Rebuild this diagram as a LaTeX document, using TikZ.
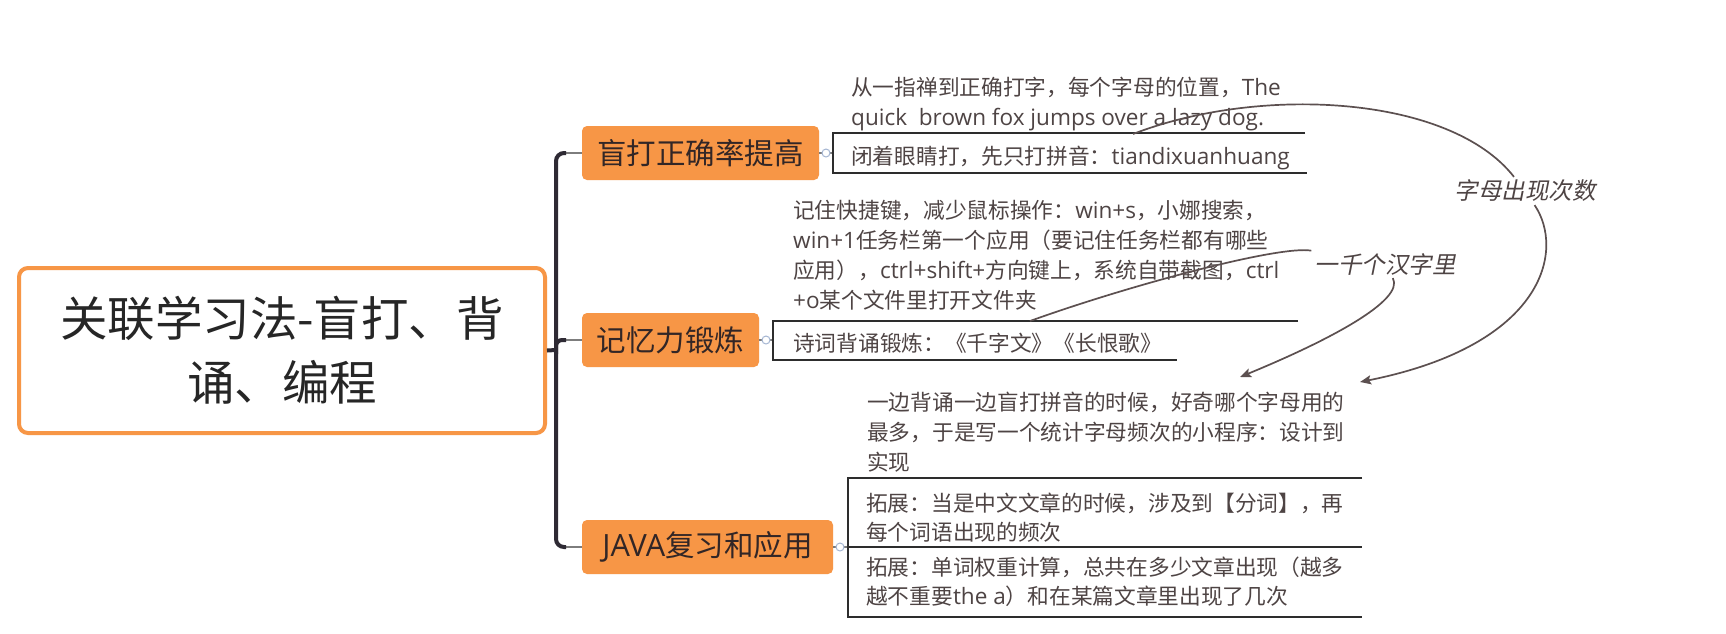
\documentclass[tikz,border=0pt]{standalone}
\usepackage{fontspec}
\setmainfont{Noto Sans CJK SC}
\newfontfamily\lat{Open Sans}[Scale=1.04]
\newfontfamily\cjkit{Noto Sans CJK SC}[FakeSlant=0.2]
\usetikzlibrary{arrows.meta}
\definecolor{orangeC}{RGB}{247,150,70}
\definecolor{txt}{RGB}{78,68,68}
\definecolor{topictxt}{RGB}{50,38,38}
\definecolor{rel}{RGB}{92,80,80}
\definecolor{trunkC}{RGB}{46,42,52}
\definecolor{thinC}{RGB}{125,125,125}
\definecolor{dotC}{RGB}{165,182,210}
\definecolor{brk}{RGB}{45,45,45}
\begin{document}
\begin{tikzpicture}[x=1pt,y=-1pt,
  central/.style={draw=orangeC, line width=4pt, fill=white, rounded corners=9pt,
    minimum width=526pt, minimum height=165pt, align=center,
    font=\fontsize{47.5pt}{64pt}\selectfont, text=black!85, inner sep=0pt},
  topic/.style={fill=orangeC, rounded corners=5pt, minimum height=54pt,
    font=\fontsize{29.5pt}{30pt}\selectfont, text=topictxt, inner sep=0pt},
  sub/.style={anchor=base west, align=left, inner sep=0pt, text=txt,
    font=\fontsize{21.7pt}{30pt}\selectfont},
  rellabel/.style={fill=white, inner sep=3pt, text=txt,
    font=\cjkit\fontsize{23.5pt}{24pt}\selectfont},
  relline/.style={draw=rel, line width=1.7pt},
  relarrow/.style={relline, -{Stealth[length=11pt,width=9pt,inset=2pt]}},
  trunk/.style={draw=trunkC, line width=4pt, rounded corners=8pt},
  thin/.style={draw=thinC, line width=1.5pt},
  bracket/.style={draw=brk, line width=1.3pt},
  dot/.style={draw=dotC, fill=white, line width=1pt, circle, minimum size=8pt, inner sep=0pt}
]
\useasboundingbox (0,0) rectangle (1726,633);
\fill[white] (0,0) rectangle (1726,633);

% central topic
\node[central] (root) at (282,350.5) {关联学习法-盲打、背\\诵、编程};

% main topics
\node[topic, minimum width=237pt] (t1) at (700.5,153) {盲打正确率提高};
\node[topic, minimum width=177pt] (t2) at (670.5,340) {记忆力锻炼};
\node[topic, minimum width=251pt] (t3) at (707.5,547) {{\lat JAVA}复习和应用};

% trunk
\coordinate (jtop) at (556,153);
\coordinate (jmid) at (556,350);
\coordinate (jbot) at (556,547);
\draw[thin] (560,153) -- (t1.west);
\draw[thin] (560,340) -- (t2.west);
\draw[thin] (560,547) -- (t3.west);
\draw[trunk] (566,153) -- (jtop) -- (jbot) -- (566,547);
\draw[trunk] (root.east) -- (jmid);
\draw[trunk, rounded corners=6pt] (556,354) -- (556,340) -- (566,340);

% subtopic brackets
\coordinate (b1) at (833,153);
\coordinate (b2) at (773,340);
\coordinate (b3) at (848,547);
\draw[thin, line width=1.2pt] (t1.east) -- (b1);
\draw[thin, line width=1.2pt] (t2.east) -- (b2);
\draw[thin, line width=1.2pt] (t3.east) -- (b3);
\node[dot] (d1) at (826,153) {};
\node[dot] (d2) at (766,340) {};
\node[dot] (d3) at (840,547) {};

\draw[bracket] (1305,133) -- (833,133) -- (833,173) -- (1307,173);
\draw[bracket] (1298,321) -- (773,321) -- (773,360) -- (1177,360);
\draw[bracket] (1362,478) -- (848,478) -- (848,617) -- (1362,617);
\draw[bracket] (848,547) -- (1362,547);

% subtopic texts (anchor = baseline of the last line)
\node[sub] (s1a) at (851,125) {从一指禅到正确打字，每个字母的位置，{\lat The}\\{\lat quick\ \ brown fox jumps over a lazy dog.}};
\node[sub] (s1b) at (851,164) {闭着眼睛打，先只打拼音：{\lat tiandixuanhuang}};
\node[sub] (s2a) at (793,308) {记住快捷键，减少鼠标操作：{\lat win+s}，小娜搜索，\\{\lat win+1}任务栏第一个应用（要记住任务栏都有哪些\\应用），{\lat ctrl+shift+}方向键上，系统自带截图，{\lat ctrl}\\{\lat +o}某个文件里打开文件夹};
\node[sub] (s2b) at (793,351) {诗词背诵锻炼：《千字文》《长恨歌》};
\node[sub] (s3a) at (867,470) {一边背诵一边盲打拼音的时候，好奇哪个字母用的\\最多，于是写一个统计字母频次的小程序：设计到\\实现};
\node[sub, font=\fontsize{21.7pt}{29pt}\selectfont] (s3b) at (866,540) {拓展：当是中文文章的时候，涉及到【分词】，再\\每个词语出现的频次};
\node[sub, font=\fontsize{21.7pt}{29pt}\selectfont] (s3c) at (866,604) {拓展：单词权重计算，总共在多少文章出现（越多\\越不重要{\lat the a}）和在某篇文章里出现了几次};

% relationships
\coordinate (srcA) at (1133,134);
\coordinate (tipA) at (1360,382);
\node[rellabel] (lblA) at (1525,191) {字母出现次数};
\draw[relline] (srcA) .. controls (1260,85) and (1450,95) .. (lblA);
\draw[relarrow] (lblA) .. controls (1565,250) and (1545,345) .. (tipA);

\coordinate (srcB) at (1030,321);
\coordinate (tipB) at (1240,377);
\node[rellabel] (lblB) at (1385,264) {一千个汉字里};
\draw[relline] (srcB) .. controls (1130,285) and (1280,245) .. (lblB);
\draw[relarrow] (lblB) .. controls (1405,300) and (1330,340) .. (tipB);
\end{tikzpicture}
\end{document}
